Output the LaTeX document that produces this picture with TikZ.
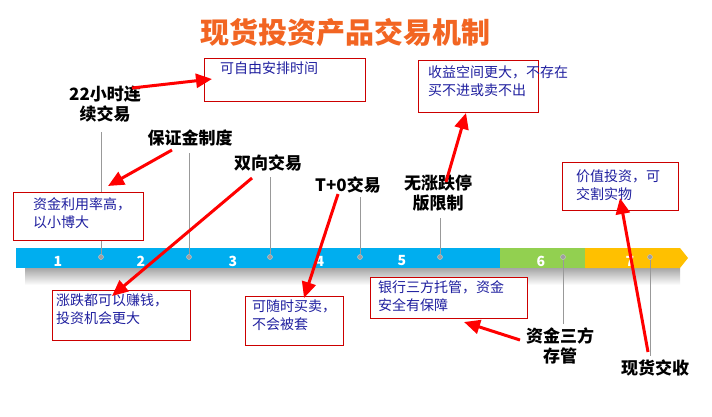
\documentclass[tikz,border=0pt]{standalone}
\usepackage{fontspec}
\setmainfont{Noto Sans CJK SC}
\usetikzlibrary{arrows.meta}
\definecolor{ttl}{HTML}{F26522}
\definecolor{barb}{HTML}{00AEEF}
\definecolor{barg}{HTML}{92D050}
\definecolor{baro}{HTML}{FFC000}
\definecolor{txtb}{HTML}{1F1F9F}
\begin{document}
\begin{tikzpicture}[x=1pt,y=-1pt,
  lbl/.style={font=\bfseries\fontsize{17}{20}\selectfont, align=center, inner sep=1pt},
  note/.style={draw=red!80!black, fill=white, line width=0.8pt, anchor=north west, inner sep=0pt},
  ntxt/.style={anchor=north west, text=txtb, font=\fontsize{14}{18}\selectfont, align=left, inner sep=0pt},
  redarr/.style={red, line width=3pt, -{Triangle[length=16pt,width=14pt]}},
  tick/.style={gray!80, line width=0.6pt},
  dotm/.style={circle, fill=gray!75, draw=gray!40, inner sep=0pt, minimum size=5pt},
  num/.style={text=white, font=\bfseries\fontsize{14}{14}\selectfont}]
\useasboundingbox (0,0) rectangle (712,416);
\fill[white] (0,0) rectangle (712,416);
\node[text=ttl, font=\bfseries\fontsize{29}{31}\selectfont] (title) at (345,32) {现货投资产品交易机制};
% bar
\shade[top color=gray!70, bottom color=white] (25,268) rectangle (680,285);
\fill[barb] (16,248) rectangle (500,268);
\fill[barg] (500,248) rectangle (585,268);
\fill[baro] (585,248) -- (680,248) -- (688,258) -- (680,268) -- (585,268) -- cycle;
\foreach \x/\n in {58/1,141/2,233/3,320/4,402/5,541/6,630/7}
  \node[num] (n\n) at (\x,261) {\n};
% labels
\node[lbl] (L1) at (105,104) {22小时连\\续交易};
\node[lbl] (L2) at (190,138) {保证金制度};
\node[lbl] (L3) at (268,163) {双向交易};
\node[lbl] (L4) at (348,185) {T+0交易};
\node[lbl] (L5) at (438,193) {无涨跌停\\版限制};
\node[lbl] (L6) at (560,346) {资金三方\\存管};
\node[lbl] (L7) at (655,368) {现货交收};
% dots and ticks
\foreach \x/\i in {101/1,189/2,270/3,360/4,440/5,563/6,650/7}
  \node[dotm] (d\i) at (\x,257) {};
\draw[tick] (d1) -- (101,132);
\draw[tick] (d2) -- (189,153);
\draw[tick] (d3) -- (270,177);
\draw[tick] (d4) -- (360,197);
\draw[tick] (d5) -- (440,218);
\draw[tick] (d6) -- (563,324);
\draw[tick] (d7) -- (650,356);
% notes
\node[note, minimum width=161pt, minimum height=43pt] (B1) at (204,58) {};
\node[ntxt] at (220,62) {可自由安排时间};
\node[note, minimum width=130pt, minimum height=48pt] (B2) at (13,192) {};
\node[ntxt] at (33,197) {资金利用率高，\\以小博大};
\node[note, minimum width=138pt, minimum height=50pt] (B3) at (52,290) {};
\node[ntxt] at (56,294) {涨跌都可以赚钱，\\投资机会更大};
\node[note, minimum width=98pt, minimum height=49pt] (B4) at (245,296) {};
\node[ntxt] at (252,300) {可随时买卖，\\不会被套};
\node[note, minimum width=157pt, minimum height=41pt] (B5) at (370,277) {};
\node[ntxt] at (378,280) {银行三方托管，资金\\安全有保障};
\node[note, minimum width=120pt, minimum height=52pt] (B6) at (418,60) {};
\node[ntxt] at (428,65) {收益空间更大，不存在\\买不进或卖不出};
\node[note, minimum width=116pt, minimum height=48pt] (B7) at (562,162) {};
\node[ntxt] at (576,170) {价值投资，可\\交割实物};
% arrows
\coordinate (a1) at (132,88); \coordinate (h1) at (212,79);
\coordinate (a2) at (172,150); \coordinate (h2) at (108,186);
\coordinate (a3) at (252,178); \coordinate (h3) at (112,296);
\coordinate (a4) at (338,194); \coordinate (h4) at (304,298);
\coordinate (a5) at (446,182); \coordinate (h5) at (466,113);
\coordinate (a6) at (520,340); \coordinate (h6) at (464,322);
\coordinate (a7) at (648,352); \coordinate (h7) at (620,198);
\foreach \i in {1,...,7} \draw[redarr] (a\i) -- (h\i);
\end{tikzpicture}
\end{document}
